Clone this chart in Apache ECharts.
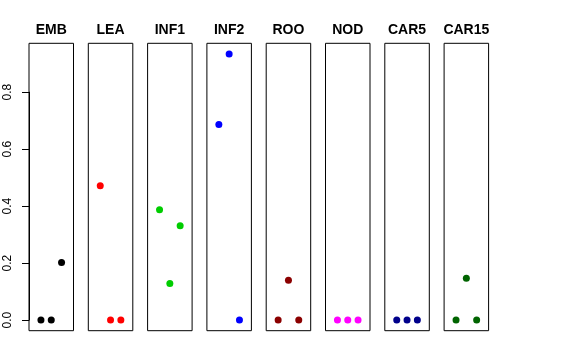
<!DOCTYPE html>
<html><head><meta charset="utf-8">
<script src="https://cdn.jsdelivr.net/npm/echarts@6/dist/echarts.min.js"></script>
<style>html,body{margin:0;padding:0;background:#fff}#c{width:576px;height:360px}</style>
</head><body><div id="c"></div>
<script>
var panels = ["EMB","LEA","INF1","INF2","ROO","NOD","CAR5","CAR15"];
var xPositions = [1, 2, 3];
var valEMB = [0, 0, 0.202];
var valLEA = [0.471, 0, 0];
var valINF1 = [0.387, 0.128, 0.331];
var valINF2 = [0.686, 0.934, 0];
var valROO = [0, 0.140, 0];
var valNOD = [0, 0, 0];
var valCAR5 = [0, 0, 0];
var valCAR15 = [0, 0.147, 0];
var panelColors = ["#000000","#FF0000","#00CD00","#0000FF","#8B0000","#FF00FF","#00008B","#006400"];
var yTickMin = 0, yTickMax = 0.8, yTickStep = 0.2;
var allValues = [valEMB, valLEA, valINF1, valINF2, valROO, valNOD, valCAR5, valCAR15];

var yMin = -0.0374, yMax = 0.9714;
var left0 = 29, step = 59.3, pw = 44.5, ptop = 43.3, ph = 287.4;
var grids = [], xAxes = [], yAxes = [], series = [], titles = [];
panels.forEach(function(name, i){
  grids.push({left: left0 + i*step, top: ptop, width: pw, height: ph, show: true,
    borderColor: '#000', borderWidth: 1, backgroundColor: 'transparent'});
  xAxes.push({type: 'value', gridIndex: i, min: -0.16, max: 4.16, show: false});
  yAxes.push({type: 'value', gridIndex: i, min: yMin, max: yMax, show: false});
  series.push({type: 'scatter', xAxisIndex: i, yAxisIndex: i, symbolSize: 7,
    itemStyle: {color: panelColors[i], opacity: 1},
    data: xPositions.map(function(x, k){ return [x, allValues[i][k]]; }),
    silent: true});
  titles.push({text: name, left: left0 + i*step + pw/2, top: 23.5, textAlign: 'center', padding: 0,
    textStyle: {fontFamily: 'Liberation Sans', fontWeight: 'bold', fontSize: 14, color: '#000'}});
});
var pxPerUnit = ph / (yMax - yMin);
var axTop = ptop + (yMax - yTickMax) * pxPerUnit;
var axH = (yTickMax - yTickMin) * pxPerUnit;
grids.push({left: left0, top: axTop, width: pw, height: axH, show: false});
xAxes.push({type: 'value', gridIndex: 8, min: 0, max: 1, show: false});
yAxes.push({type: 'value', gridIndex: 8, min: yTickMin, max: yTickMax, interval: yTickStep,
  splitLine: {show: false},
  axisLine: {show: true, lineStyle: {color: '#000', width: 1}},
  axisTick: {show: true, length: 7, lineStyle: {color: '#000', width: 1}},
  axisLabel: {rotate: 90, margin: 15, color: '#000', fontFamily: 'Liberation Sans', fontSize: 12,
    formatter: function(v){ return v.toFixed(1); }}
});
var chart = echarts.init(document.getElementById('c'), null, {renderer: 'canvas'});
chart.setOption({animation: false, title: titles, grid: grids, xAxis: xAxes, yAxis: yAxes, series: series});
</script></body></html>
